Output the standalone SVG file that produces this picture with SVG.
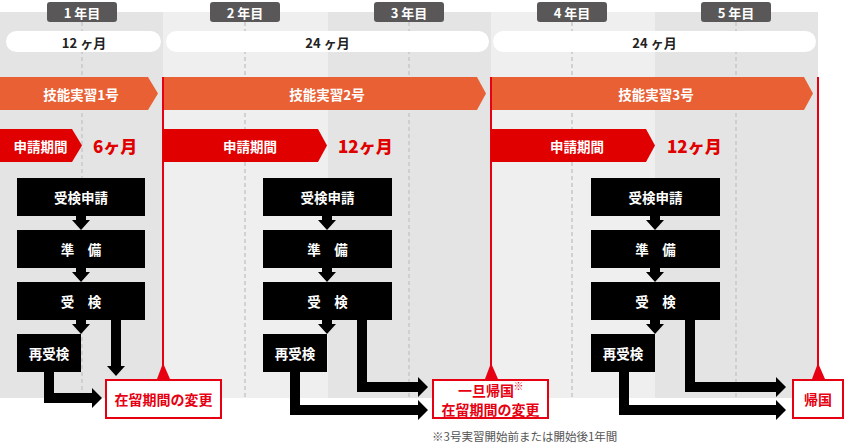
<svg xmlns="http://www.w3.org/2000/svg" width="850" height="445" viewBox="0 0 850 445">
<style>
text{font-family:"Noto Sans CJK JP","Noto Sans",sans-serif;font-weight:bold;dominant-baseline:central;text-anchor:middle}
.yr{fill:#595757}
.yt{fill:#fff;font-size:13px}
.pt{fill:#222;font-size:13px}
.org{fill:#e86034}
.ot{fill:#fff;font-size:13.5px}
.app{fill:#e00000}
.rn{fill:#e00000;font-size:17px;text-anchor:start;font-weight:900}
.box{fill:#000}
.bt{fill:#fff;font-size:13.5px}
.rbox{fill:#fff;stroke:#e60012;stroke-width:2}
.rt{fill:#e60012;font-size:14px}
.rl{stroke:#e60012;stroke-width:2}
.dash{stroke:#c8c8c8;stroke-width:1.5;stroke-dasharray:4 3}
.arr{fill:#000}
</style>
<g id="background">
<rect x="0" y="12" width="163" height="386" fill="#e4e4e4"/>
<rect x="163" y="12" width="165" height="386" fill="#efefef"/>
<rect x="328" y="12" width="163" height="386" fill="#e4e4e4"/>
<rect x="491" y="12" width="164" height="386" fill="#efefef"/>
<rect x="655" y="12" width="163" height="386" fill="#e4e4e4"/>
<line class="dash" x1="82" y1="22" x2="82" y2="398"/>
<line class="dash" x1="245" y1="22" x2="245" y2="398"/>
<line class="dash" x1="409" y1="22" x2="409" y2="398"/>
<line class="dash" x1="572" y1="22" x2="572" y2="398"/>
<line class="dash" x1="736" y1="22" x2="736" y2="398"/>
</g>
<g id="years">
<rect class="yr" x="47" y="2" width="70" height="20" rx="3"/><text class="yt" x="82" y="12">1 年目</text>
<rect class="yr" x="210" y="2" width="70" height="20" rx="3"/><text class="yt" x="245" y="12">2 年目</text>
<rect class="yr" x="374" y="2" width="70" height="20" rx="3"/><text class="yt" x="409" y="12">3 年目</text>
<rect class="yr" x="537" y="2" width="70" height="20" rx="3"/><text class="yt" x="572" y="12">4 年目</text>
<rect class="yr" x="701" y="2" width="70" height="20" rx="3"/><text class="yt" x="736" y="12">5 年目</text>
</g>
<g id="periods">
<rect x="6" y="31" width="155" height="21" rx="10.5" fill="#fff"/><text class="pt" x="84" y="42">12 ヶ月</text>
<rect x="166" y="31" width="323" height="21" rx="10.5" fill="#fff"/><text class="pt" x="327.5" y="42">24 ヶ月</text>
<rect x="493" y="31" width="323" height="21" rx="10.5" fill="#fff"/><text class="pt" x="654.5" y="42">24 ヶ月</text>
</g>
<g id="stage1">
<polygon class="org" points="0,77 148,77 158,93.5 148,110 0,110"/><text class="ot" x="81" y="94">技能実習1号</text>
</g>
<g id="stage2">
<polygon class="org" points="163,77 477,77 486,93.5 477,110 163,110"/><text class="ot" x="327" y="94">技能実習2号</text>
</g>
<g id="stage3">
<polygon class="org" points="491,77 804,77 813,93.5 804,110 491,110"/><text class="ot" x="656" y="94">技能実習3号</text>
</g>
<g id="redlines">
<line class="rl" x1="163" y1="77" x2="163" y2="366"/>
<line class="rl" x1="491" y1="77" x2="491" y2="366"/>
<line class="rl" x1="818" y1="77" x2="818" y2="366"/>
</g>
<g id="apply1">
<polygon class="app" points="0,129 72,129 82,145.5 72,162 0,162"/><text class="ot" x="40.5" y="145.5">申請期間</text>
<text class="rn" x="93" y="145.5">6ヶ月</text>
</g>
<g id="apply2">
<polygon class="app" points="163,129 318,129 327,145.5 318,162 163,162"/><text class="ot" x="250" y="145.5">申請期間</text>
<text class="rn" x="338" y="145.5">12ヶ月</text>
</g>
<g id="apply3">
<polygon class="app" points="491,129 646,129 655,145.5 646,162 491,162"/><text class="ot" x="577" y="145.5">申請期間</text>
<text class="rn" x="667" y="145.5">12ヶ月</text>
</g>
<g id="flow1">
<rect class="box" x="17" y="178" width="128" height="38"/><text class="bt" x="81" y="197">受検申請</text>
<rect class="box" x="17" y="230" width="128" height="38"/><text class="bt" x="81" y="249">準　備</text>
<rect class="box" x="17" y="282" width="128" height="38"/><text class="bt" x="81" y="301">受　検</text>
<rect class="box" x="17" y="334" width="64" height="38"/><text class="bt" x="49" y="353">再受検</text>
</g>
<g id="flow2">
<rect class="box" x="263" y="178" width="129" height="38"/><text class="bt" x="327.5" y="197">受検申請</text>
<rect class="box" x="263" y="230" width="129" height="38"/><text class="bt" x="327.5" y="249">準　備</text>
<rect class="box" x="263" y="282" width="129" height="38"/><text class="bt" x="327.5" y="301">受　検</text>
<rect class="box" x="263" y="334" width="64" height="38"/><text class="bt" x="295" y="353">再受検</text>
</g>
<g id="flow3">
<rect class="box" x="591" y="178" width="129" height="38"/><text class="bt" x="655.5" y="197">受検申請</text>
<rect class="box" x="591" y="230" width="129" height="38"/><text class="bt" x="655.5" y="249">準　備</text>
<rect class="box" x="591" y="282" width="129" height="38"/><text class="bt" x="655.5" y="301">受　検</text>
<rect class="box" x="591" y="334" width="64" height="38"/><text class="bt" x="623" y="353">再受検</text>
</g>
<g id="connectors">
<polygon class="arr" points="76,216 86,216 86,220 90,220 81,230 72,220 76,220"/>
<polygon class="arr" points="76,268 86,268 86,272 90,272 81,282 72,272 76,272"/>
<polygon class="arr" points="76,320 86,320 86,324 90,324 81,334 72,324 76,324"/>
<polygon class="arr" points="111,320 121,320 121,366 125,366 116,376 107,366 111,366"/>
<path class="arr" d="M44,372H54V393H92V388L102,398L92,408V403H44Z"/>
<polygon class="arr" points="322,216 332,216 332,220 336,220 327,230 318,220 322,220"/>
<polygon class="arr" points="322,268 332,268 332,272 336,272 327,282 318,272 322,272"/>
<polygon class="arr" points="322,320 332,320 332,324 336,324 327,334 318,324 322,324"/>
<path class="arr" d="M357,320H367V382H418V377L428,387L418,397V392H357Z"/>
<path class="arr" d="M290,372H300V405H418V400L428,410L418,420V415H290Z"/>
<polygon class="arr" points="650,216 660,216 660,220 664,220 655,230 646,220 650,220"/>
<polygon class="arr" points="650,268 660,268 660,272 664,272 655,282 646,272 650,272"/>
<polygon class="arr" points="650,320 660,320 660,324 664,324 655,334 646,324 650,324"/>
<path class="arr" d="M685,320H695V382H776V377L786,387L776,397V392H685Z"/>
<path class="arr" d="M619,372H629V405H776V400L786,410L776,420V415H619Z"/>
</g>
<g id="result1">
<polygon fill="#e60012" points="157,379 163,363 170,379"/>
<rect class="rbox" x="106" y="380" width="115" height="38"/>
<text class="rt" x="163.5" y="399">在留期間の変更</text>
</g>
<g id="result2">
<polygon fill="#e60012" points="485,379 491,363 498,379"/>
<rect class="rbox" x="433" y="380" width="115" height="38"/>
<text class="rt" x="486" y="390">一旦帰国</text>
<text class="rt" x="518.5" y="385" style="font-size:10px">※</text>
<text class="rt" x="490.5" y="409">在留期間の変更</text>
</g>
<g id="result3">
<polygon fill="#e60012" points="812,379 818,363 825,379"/>
<rect class="rbox" x="793" y="380" width="50" height="38"/>
<text class="rt" x="818" y="399">帰国</text>
</g>
<text x="432" y="436" style="font-weight:normal;font-size:11.5px;fill:#555;text-anchor:start">※3号実習開始前または開始後1年間</text>
</svg>
